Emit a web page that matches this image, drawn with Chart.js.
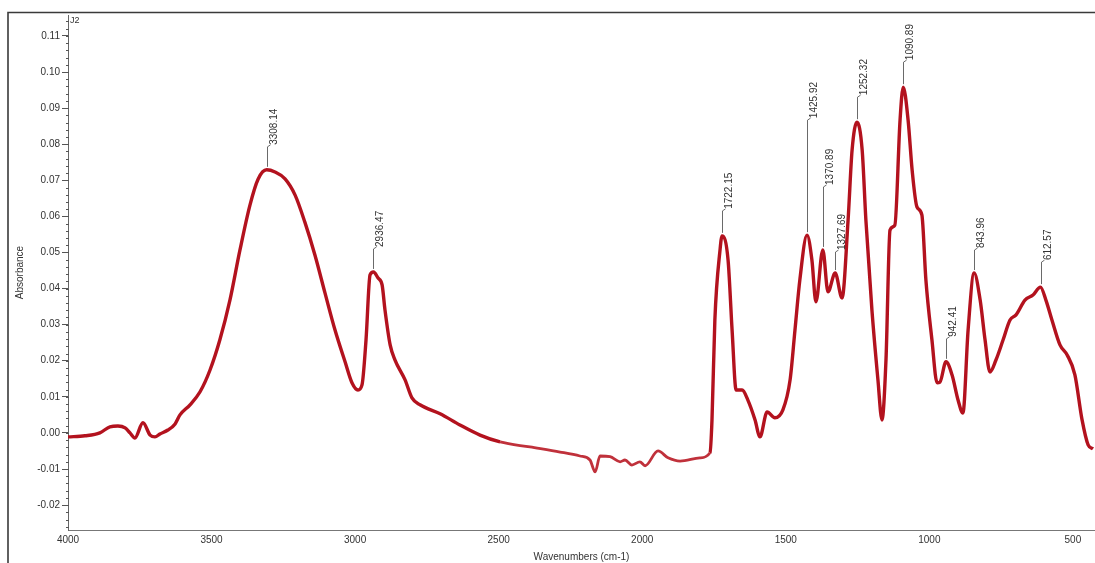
<!DOCTYPE html>
<html>
<head>
<meta charset="utf-8">
<script src="https://cdn.jsdelivr.net/npm/chart.js@4.4.1/dist/chart.umd.min.js"></script>
<style>
html,body{margin:0;padding:0;background:#fff;}
#wrap{width:1095px;height:563px;position:relative;}
</style>
</head>
<body>
<div id="wrap"><canvas id="c" width="1095" height="563"></canvas></div>
<script>
// Spectrum (wavenumber cm-1 → absorbance)
const wavenumbers = [4000,3941,3889,3854,3826,3801,3784,3767,3739,3714,3697,3680,3652,3627,3610,3575,3540,3505,3471,3436,3401,3366,3338,3308,3279,3244,3209,3175,3140,3105,3070,3035,3011,2990,2976,2962,2948,2936,2920,2906,2896,2878,2861,2826,2802,2774,2704,2635,2565,2495,2391,2286,2217,2182,2164,2147,2112,2077,2060,2036,2008,1990,1945,1910,1868,1799,1764,1757,1747,1729,1722,1701,1687,1673,1652,1632,1607,1590,1565,1538,1510,1485,1468,1451,1426,1409,1395,1371,1353,1328,1304,1283,1269,1252,1234,1221,1200,1179,1165,1151,1137,1120,1102,1091,1074,1060,1043,1026,1012,991,973,963,942,921,900,883,865,844,823,806,789,768,743,719,698,667,639,613,594,573,545,520,493,468,447,430];
const absorbance = [-0.0011,-0.0008,0.0000,0.0017,0.0019,0.0014,0.0000,-0.0014,0.0028,-0.0006,-0.0011,-0.0003,0.0008,0.0025,0.0050,0.0078,0.0114,0.0175,0.0258,0.0368,0.0507,0.0632,0.0703,0.0729,0.0723,0.0704,0.0659,0.0584,0.0493,0.0388,0.0285,0.0197,0.0139,0.0119,0.0133,0.0258,0.0438,0.0446,0.0429,0.0410,0.0341,0.0244,0.0202,0.0147,0.0097,0.0078,0.0053,0.0022,-0.0006,-0.0025,-0.0039,-0.0053,-0.0064,-0.0075,-0.0108,-0.0064,-0.0066,-0.0080,-0.0075,-0.0089,-0.0080,-0.0091,-0.0050,-0.0069,-0.0078,-0.0069,-0.0055,0.0036,0.0313,0.0507,0.0546,0.0479,0.0285,0.0119,0.0119,0.0091,0.0036,-0.0011,0.0058,0.0042,0.0064,0.0147,0.0285,0.0424,0.0548,0.0479,0.0363,0.0507,0.0391,0.0443,0.0374,0.0590,0.0784,0.0861,0.0784,0.0590,0.0341,0.0147,0.0036,0.0202,0.0562,0.0576,0.0867,0.0958,0.0867,0.0729,0.0626,0.0604,0.0424,0.0258,0.0139,0.0141,0.0197,0.0161,0.0091,0.0055,0.0285,0.0443,0.0368,0.0258,0.0169,0.0202,0.0258,0.0313,0.0327,0.0368,0.0382,0.0404,0.0368,0.0313,0.0244,0.0216,0.0161,0.0036,-0.0033,-0.0044];

// Peak annotations
const peakWavenumbers = [3308.14,2936.47,1722.15,1425.92,1370.89,1327.69,1252.32,1090.89,942.41,843.96,612.57];
const peakAbsorbance  = [0.0729,0.0446,0.0546,0.0548,0.0507,0.0443,0.0861,0.0958,0.0197,0.0443,0.0404];
const peakLabels = ['3308.14','2936.47','1722.15','1425.92','1370.89','1327.69','1252.32','1090.89','942.41','843.96','612.57'];

// Axis ticks
const xTickLabels = [4000,3500,3000,2500,2000,1500,1000,500];
const yTickLabels = [0.11,0.10,0.09,0.08,0.07,0.06,0.05,0.04,0.03,0.02,0.01,0.00,-0.01,-0.02];

const FONT = "'Liberation Sans', Arial, sans-serif";
const leaderLengths = [20,20,22,112,60,18,22,22,20,20,22];

const decorPlugin = {
  id: 'decor',
  beforeDraw(chart) {
    const ctx = chart.ctx;
    ctx.save();
    ctx.fillStyle = '#fff';
    ctx.fillRect(0, 0, chart.width, chart.height);
    ctx.strokeStyle = '#3a3a3a';
    ctx.lineWidth = 1.6;
    ctx.beginPath();
    ctx.moveTo(8, 563); ctx.lineTo(8, 12.5); ctx.lineTo(1095, 12.5);
    ctx.stroke();
    ctx.restore();
  },
  afterDraw(chart) {
    const ctx = chart.ctx;
    const xs = chart.scales.x, ys = chart.scales.y;
    const area = chart.chartArea;
    ctx.save();
    ctx.strokeStyle = '#555';
    ctx.lineWidth = 1;
    ctx.beginPath();
    for (let v = -0.026; v <= 0.115; v += 0.002) {
      const py = Math.round(ys.getPixelForValue(v)) + 0.5;
      ctx.moveTo(area.left - 2, py); ctx.lineTo(area.left + 1, py);
    }
    ctx.stroke();
    ctx.fillStyle = '#333';
    ctx.font = '9px ' + FONT;
    ctx.textAlign = 'left';
    ctx.textBaseline = 'middle';
    ctx.fillText('J2', area.left + 2, 21);
    ctx.strokeStyle = '#444';
    ctx.lineWidth = 0.8;
    for (let i = 0; i < peakWavenumbers.length; i++) {
      const px = Math.round(xs.getPixelForValue(peakWavenumbers[i])) + 0.5;
      const py = ys.getPixelForValue(peakAbsorbance[i]) - 3;
      const top = py - leaderLengths[i];
      ctx.beginPath();
      ctx.moveTo(px, py); ctx.lineTo(px, top); ctx.lineTo(px + 3, top - 2);
      ctx.stroke();
      ctx.save();
      ctx.translate(px + 7, top - 2);
      ctx.rotate(-Math.PI / 2);
      ctx.font = '10px ' + FONT;
      ctx.fillStyle = '#333';
      ctx.textAlign = 'left';
      ctx.textBaseline = 'middle';
      ctx.fillText(peakLabels[i], 0, 0);
      ctx.restore();
    }
    ctx.restore();
  }
};

const points = wavenumbers.map((w, i) => ({x: w, y: absorbance[i]}));
const inFaint = (ctx) => ctx.p0.parsed.x < 2550 && ctx.p1.parsed.x > 1760;

new Chart(document.getElementById('c'), {
  type: 'line',
  data: {
    datasets: [{
      data: points,
      borderColor: '#b3121e',
      borderWidth: 3.4,
      pointRadius: 0,
      cubicInterpolationMode: 'monotone',
      fill: false,
      segment: {
        borderColor: (ctx) => inFaint(ctx) ? '#c0313b' : undefined,
        borderWidth: (ctx) => inFaint(ctx) ? 2.8 : undefined
      }
    }]
  },
  options: {
    responsive: false,
    animation: false,
    devicePixelRatio: 1,
    layout: {padding: {top: 15, right: 0, left: 0, bottom: 0}},
    plugins: {legend: {display: false}, tooltip: {enabled: false}},
    scales: {
      x: {
        type: 'linear',
        reverse: true,
        min: 423,
        max: 4000,
        afterFit(s) { s.height = 33; },
        border: {display: true, color: '#777', width: 1},
        grid: {display: false, drawOnChartArea: false, drawTicks: true, tickLength: 3, color: '#555'},
        ticks: {
          stepSize: 100,
          includeBounds: false,
          autoSkip: false,
          maxRotation: 0,
          padding: 1,
          color: '#333',
          font: {family: FONT, size: 10},
          callback: (v) => xTickLabels.includes(v) ? String(v) : ''
        },
        title: {display: true, text: 'Wavenumbers (cm-1)', color: '#333', font: {family: FONT, size: 10}, padding: {top: 0, bottom: 0}}
      },
      y: {
        type: 'linear',
        min: -0.0269,
        max: 0.1158,
        afterFit(s) { s.width = 68; },
        border: {display: true, color: '#666', width: 1},
        grid: {display: true, drawOnChartArea: false, drawTicks: true, tickLength: 6, color: '#555'},
        ticks: {
          stepSize: 0.01,
          includeBounds: false,
          autoSkip: false,
          padding: 2,
          color: '#333',
          font: {family: FONT, size: 10},
          callback: (v) => {
            const r = Math.round(v * 100) / 100;
            return yTickLabels.some(t => Math.abs(t - r) < 1e-9) ? r.toFixed(2) : '';
          }
        },
        title: {display: true, text: 'Absorbance', color: '#333', font: {family: FONT, size: 10}, padding: {top: 14, bottom: 0}}
      }
    }
  },
  plugins: [decorPlugin]
});
</script>
</body>
</html>
